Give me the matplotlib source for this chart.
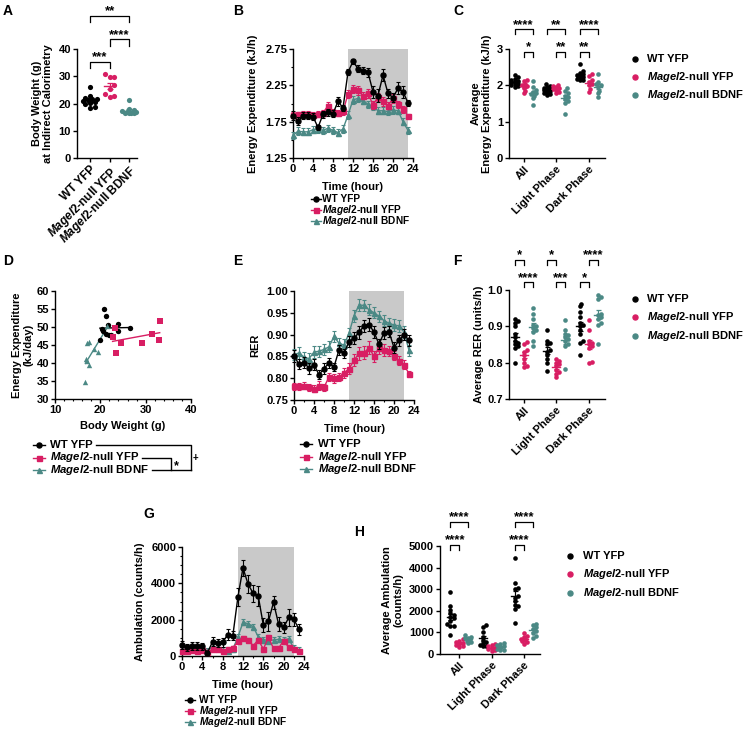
import numpy as np
import matplotlib.pyplot as plt
from matplotlib.lines import Line2D
from matplotlib.ticker import MultipleLocator, FormatStrFormatter

W, H = 747, 733

plt.rcParams.update({
    'font.family': 'Liberation Sans',
    'font.weight': 'bold',
    'font.size': 8,
    'axes.labelweight': 'bold',
    'axes.labelsize': 8,
    'axes.linewidth': 1.0,
    'xtick.labelsize': 8, 'ytick.labelsize': 8,
    'xtick.major.size': 2.8, 'ytick.major.size': 2.8,
    'xtick.minor.size': 1.6, 'ytick.minor.size': 1.6,
    'xtick.major.width': 1.0, 'ytick.major.width': 1.0,
    'xtick.minor.width': 0.8, 'ytick.minor.width': 0.8,
    'xtick.major.pad': 1.5, 'ytick.major.pad': 1.5,
    'mathtext.fontset': 'custom',
    'mathtext.it': 'Liberation Sans:italic:bold',
    'mathtext.rm': 'Liberation Sans:bold',
    'mathtext.bf': 'Liberation Sans:bold',
})

# --- groups / style ---
GROUPS = ['WT YFP', r'$\mathit{Magel2}$-null YFP', r'$\mathit{Magel2}$-null BDNF']
COLORS = ['#000000', '#D81E63', '#4B8985']
MARKERS = ['o', 's', '^']
GREY = '#C9C9C9'
PHASES = ['All', 'Light Phase', 'Dark Phase']

# --- A: body weight (g) ---
BW_WT = [26.1, 22.6, 22.2, 21.8, 21.6, 21.3, 21.0, 20.6, 20.2, 19.8, 18.8, 18.4]
BW_YFP = [30.7, 29.9, 29.8, 26.8, 25.5, 23.6, 22.6, 22.4]
BW_BDNF = [21.3, 18.0, 17.7, 17.3, 17.0, 16.8, 16.6, 16.5, 16.4, 16.4]

# --- B: energy expenditure (kJ/h) by hour ---
HOURS = np.arange(24)
EE_WT = [1.83, 1.76, 1.83, 1.83, 1.82, 1.67, 1.85, 1.88, 1.86, 2.03, 1.94, 2.43,
         2.58, 2.48, 2.45, 2.43, 2.16, 2.11, 2.39, 2.14, 2.08, 2.21, 2.16, 2.01]
EE_WT_SEM = [0.06, 0.05, 0.05, 0.05, 0.05, 0.04, 0.05, 0.05, 0.05, 0.06, 0.04, 0.04,
             0.03, 0.05, 0.05, 0.06, 0.08, 0.09, 0.08, 0.06, 0.06, 0.08, 0.08, 0.04]
EE_YFP = [1.84, 1.85, 1.86, 1.85, 1.84, 1.85, 1.87, 1.97, 1.88, 1.87, 1.89, 2.13,
          2.20, 2.18, 2.11, 2.14, 1.98, 2.09, 2.03, 1.97, 2.07, 1.99, 1.92, 1.83]
EE_YFP_SEM = [0.04, 0.03, 0.04, 0.04, 0.04, 0.04, 0.04, 0.05, 0.04, 0.04, 0.05, 0.06,
              0.06, 0.06, 0.05, 0.06, 0.06, 0.06, 0.06, 0.05, 0.06, 0.05, 0.05, 0.03]
EE_BDNF = [1.56, 1.62, 1.61, 1.61, 1.64, 1.65, 1.63, 1.66, 1.63, 1.60, 1.65, 1.84,
           2.05, 2.07, 2.04, 1.99, 1.96, 1.90, 1.90, 1.89, 1.91, 1.90, 1.75, 1.63]
EE_BDNF_SEM = [0.05] * 24

# --- C: average energy expenditure (kJ/h) ---
C_ALL_WT = [2.28, 2.22, 2.18, 2.15, 2.12, 2.10, 2.08, 2.05, 2.03, 2.00, 1.98, 1.95]
C_ALL_YFP = [2.15, 2.12, 2.05, 2.00, 1.97, 1.93, 1.85, 1.78]
C_ALL_BDNF = [2.12, 1.95, 1.88, 1.82, 1.78, 1.75, 1.72, 1.65, 1.45]
C_LIGHT_WT = [2.03, 1.98, 1.95, 1.92, 1.90, 1.88, 1.86, 1.84, 1.80, 1.78, 1.76, 1.74]
C_LIGHT_YFP = [2.02, 1.98, 1.95, 1.92, 1.90, 1.88, 1.82, 1.78]
C_LIGHT_BDNF = [1.92, 1.85, 1.78, 1.72, 1.68, 1.62, 1.58, 1.52, 1.22]
C_DARK_WT = [2.58, 2.40, 2.35, 2.30, 2.28, 2.25, 2.22, 2.20, 2.18, 2.17, 2.16, 2.15]
C_DARK_YFP = [2.30, 2.25, 2.15, 2.10, 2.05, 2.00, 1.90, 1.82]
C_DARK_BDNF = [2.30, 2.10, 2.03, 2.00, 1.95, 1.85, 1.78, 1.68]

# --- D: EE (kJ/day) vs body weight (g) ---
D_WT_BW = [20.8, 21.2, 21.8, 20.3, 20.5, 19.9, 21.2, 21.9, 22.3, 23.8, 23.8, 26.6]
D_WT_EE = [55.1, 53.1, 50.5, 49.4, 48.9, 46.5, 48.1, 47.9, 47.7, 50.9, 48.9, 49.8]
D_YFP_BW = [23.3, 22.7, 23.4, 24.5, 29.2, 31.4, 33.1, 33.0]
D_YFP_EE = [49.8, 47.1, 42.9, 45.5, 45.6, 48.1, 51.7, 46.4]
D_BDNF_BW = [16.7, 16.9, 17.1, 17.1, 17.6, 17.6, 18.6, 19.4, 21.4]
D_BDNF_EE = [34.6, 41.0, 40.5, 45.6, 45.7, 39.4, 43.9, 43.1, 50.2]

# --- E: RER by hour ---
RER_WT = [0.851, 0.832, 0.836, 0.823, 0.831, 0.808, 0.822, 0.835, 0.826, 0.865, 0.857, 0.884,
          0.892, 0.905, 0.920, 0.923, 0.906, 0.878, 0.904, 0.907, 0.870, 0.887, 0.900, 0.887]
RER_WT_SEM = [0.014, 0.012, 0.012, 0.013, 0.012, 0.010, 0.012, 0.011, 0.010, 0.012, 0.010, 0.012,
              0.013, 0.014, 0.013, 0.014, 0.014, 0.012, 0.013, 0.012, 0.013, 0.013, 0.012, 0.013]
RER_YFP = [0.781, 0.781, 0.783, 0.779, 0.776, 0.783, 0.779, 0.803, 0.800, 0.803, 0.812, 0.822,
           0.841, 0.857, 0.858, 0.870, 0.850, 0.870, 0.865, 0.863, 0.852, 0.840, 0.831, 0.810]
RER_YFP_SEM = [0.008, 0.008, 0.008, 0.008, 0.008, 0.010, 0.008, 0.010, 0.010, 0.010, 0.012, 0.012,
               0.014, 0.015, 0.015, 0.015, 0.013, 0.014, 0.013, 0.012, 0.011, 0.010, 0.010, 0.006]
RER_BDNF = [0.854, 0.858, 0.848, 0.845, 0.860, 0.862, 0.866, 0.872, 0.896, 0.880, 0.876, 0.903,
            0.943, 0.968, 0.967, 0.957, 0.950, 0.942, 0.932, 0.926, 0.922, 0.920, 0.906, 0.864]
RER_BDNF_SEM = [0.013] * 24

# --- F: average RER ---
F_ALL_WT = [0.920, 0.915, 0.910, 0.900, 0.880, 0.870, 0.860, 0.855, 0.850, 0.845, 0.840, 0.800]
F_ALL_YFP = [0.857, 0.852, 0.835, 0.830, 0.820, 0.810, 0.800, 0.790, 0.787]
F_ALL_BDNF = [0.950, 0.935, 0.920, 0.905, 0.900, 0.895, 0.890, 0.885, 0.860, 0.845]
F_LIGHT_WT = [0.890, 0.860, 0.855, 0.850, 0.835, 0.830, 0.820, 0.810, 0.800, 0.778]
F_LIGHT_YFP = [0.810, 0.805, 0.800, 0.795, 0.790, 0.780, 0.775, 0.770, 0.760]
F_LIGHT_BDNF = [0.918, 0.890, 0.880, 0.875, 0.870, 0.865, 0.860, 0.850, 0.845, 0.783]
F_DARK_WT = [0.962, 0.955, 0.940, 0.925, 0.910, 0.905, 0.900, 0.890, 0.880, 0.860, 0.855, 0.820]
F_DARK_YFP = [0.918, 0.890, 0.860, 0.855, 0.850, 0.845, 0.840, 0.802, 0.800]
F_DARK_BDNF = [0.985, 0.980, 0.975, 0.935, 0.930, 0.925, 0.920, 0.910, 0.905, 0.852]

# --- G: ambulation (counts/h) by hour ---
AMB_WT = [600, 480, 550, 570, 540, 180, 780, 720, 750, 1180, 1120, 3250,
          4850, 3950, 3450, 3300, 1700, 1900, 2950, 1750, 1570, 2120, 2020, 1480]
AMB_WT_SEM = [200, 180, 200, 220, 200, 100, 250, 230, 260, 300, 260, 500,
              450, 500, 450, 550, 400, 500, 350, 400, 300, 450, 350, 300]
AMB_YFP = [290, 290, 320, 300, 320, 220, 380, 410, 300, 380, 430, 800,
           1000, 880, 560, 900, 380, 1030, 420, 430, 850, 470, 400, 300]
AMB_YFP_SEM = [100] * 24
AMB_BDNF = [350, 370, 420, 400, 400, 280, 500, 480, 350, 300, 380, 1050,
            1850, 1780, 1620, 1050, 900, 850, 880, 920, 880, 950, 420, 320]
AMB_BDNF_SEM = [160] * 24

# --- H: average ambulation (counts/h) ---
H_ALL_WT = [2850, 2200, 2050, 1900, 1800, 1700, 1650, 1550, 1400, 1300, 1300, 900]
H_ALL_YFP = [700, 620, 560, 500, 450, 420, 380, 330]
H_ALL_BDNF = [860, 800, 760, 720, 680, 620, 560, 500]
H_LIGHT_WT = [1320, 1250, 1000, 800, 650, 550, 500, 420, 380, 350]
H_LIGHT_YFP = [480, 400, 350, 300, 260, 230, 200, 160]
H_LIGHT_BDNF = [500, 450, 400, 380, 300, 250, 200, 170]
H_DARK_WT = [4450, 3300, 3050, 3000, 2700, 2600, 2450, 2250, 2200, 2100, 1450]
H_DARK_YFP = [950, 850, 780, 700, 650, 600, 550, 480]
H_DARK_BDNF = [1400, 1350, 1250, 1150, 1050, 950, 850, 750]

fig = plt.figure(figsize=(W / 100, H / 100), dpi=100)


def fx(x):
    return x / W


def fy(y):
    return 1 - y / H


def add_ax(l, t, r, b):
    ax = fig.add_axes([l / W, 1 - b / H, (r - l) / W, (b - t) / H])
    ax.spines[['top', 'right']].set_visible(False)
    return ax


def ppu(ax):
    p = ax.transData.transform([(0, 0), (1, 1)])
    return p[1] - p[0]


def swarm(vals, px_y, d_px, step_px, max_px):
    # simple beeswarm: offsets in pixels, kept inside +-max_px
    vals = np.asarray(vals, float)
    off = np.zeros(len(vals))
    placed = []
    cands = [0.0]
    j = 1
    while j * step_px <= max_px:
        cands += [j * step_px, -j * step_px]
        j += 1
    for i in np.argsort(vals):
        y = vals[i] * px_y
        best, best_d = 0.0, -1
        for c in cands:
            dmin = min([np.hypot(c - a, y - b) for a, b in placed] or [1e9])
            if dmin >= d_px:
                best = c
                break
            if dmin > best_d:
                best, best_d = c, dmin
        off[i] = best
        placed.append((best, y))
    return off


def time_panel(ax, series, errs, ylim, ymaj, ymin, fmt, shade):
    ax.set_xlim(0, 24)
    ax.set_ylim(*ylim)
    ax.axvspan(*shade, color=GREY, lw=0, zorder=0)
    for g in [2, 1, 0]:
        eb = ax.errorbar(HOURS, series[g], yerr=errs[g], color=COLORS[g], marker=MARKERS[g],
                         ms=3.6, lw=1.0, elinewidth=0.8, capsize=1.6, capthick=0.8, zorder=3 + (2 - g))
        line, caps, bars = eb.lines
        for a in [line, *caps, *bars]:
            a.set_clip_on(False)
    ax.xaxis.set_major_locator(MultipleLocator(4))
    ax.xaxis.set_minor_locator(MultipleLocator(2))
    ax.yaxis.set_major_locator(MultipleLocator(ymaj))
    if ymin:
        ax.yaxis.set_minor_locator(MultipleLocator(ymin))
    ax.yaxis.set_major_formatter(FormatStrFormatter(fmt))
    ax.set_xlabel('Time (hour)')
    ax.xaxis.set_label_coords(0.5, -0.22)


def dots(ax, xpos, sets, d_px, step_px, max_px, half, cap, s):
    px_x, px_y = ppu(ax)
    for x0, vals, g in zip(xpos, sets, [0, 1, 2] * (len(sets) // 3)):
        dx = swarm(vals, px_y, d_px, step_px, max_px) / px_x
        ax.scatter(x0 + dx, vals, s=s, color=COLORS[g], lw=0, zorder=3, clip_on=False)
        m = np.mean(vals)
        se = np.std(vals, ddof=1) / np.sqrt(len(vals))
        ax.plot([x0 - half, x0 + half], [m, m], color=COLORS[g], lw=1.0, zorder=4)
        ax.errorbar(x0, m, yerr=se, color=COLORS[g], elinewidth=0.9, capsize=cap, capthick=0.9, zorder=4)


def bracket(ax, x1, x2, y, text, leg_px=5):
    h = leg_px / ppu(ax)[1]
    ax.plot([x1, x1, x2, x2], [y - h, y, y, y - h], color='k', lw=0.9, clip_on=False)
    ax.annotate(text, xy=((x1 + x2) / 2, y), xytext=(0, 1), textcoords='offset points',
                ha='center', va='baseline', fontsize=9.5, annotation_clip=False)


def legend(xm, xt, rows, hl=0, fs=8.5):
    # xm: handle centre, hl: half length of the handle line (0 = marker only)
    texts = []
    for g, y in enumerate(rows):
        if hl:
            fig.add_artist(Line2D([fx(xm - hl), fx(xm + hl)], [fy(y), fy(y)], color=COLORS[g], lw=1.0,
                                  transform=fig.transFigure))
        fig.add_artist(Line2D([fx(xm)], [fy(y)], color=COLORS[g], marker=MARKERS[g] if hl else 'o',
                              ms=3.6, lw=0, transform=fig.transFigure))
        texts.append(fig.text(fx(xt), fy(y), GROUPS[g], va='center', ha='left', fontsize=fs))
    return texts


def panel_letter(x, y, s):
    fig.text(fx(x), fy(y), s, fontsize=10, fontweight='bold', va='top', ha='left')


def rotate_ticks(ax, fs=8):
    for t in ax.get_xticklabels():
        t.set_rotation(45)
        t.set_ha('right')
        t.set_rotation_mode('anchor')
        t.set_fontsize(fs)


# ---------------- A ----------------
axA = add_ax(77, 49, 137, 158)
axA.set_xlim(-0.67, 2.4)
axA.set_ylim(0, 40)
axA.yaxis.set_major_locator(MultipleLocator(10))
dots(axA, [0, 1, 2], [BW_WT, BW_YFP, BW_BDNF], d_px=4.5, step_px=2.3, max_px=7, half=0.27, cap=2.2, s=14)
axA.set_xticks([0, 1, 2])
axA.set_xticklabels(GROUPS)
rotate_ticks(axA, 8.5)
axA.set_ylabel('Body Weight (g)\nat Indirect Calorimetry', linespacing=1.1)
axA.yaxis.set_label_coords(-0.40, 0.5)
bracket(axA, 0, 1, 35.3, '***', 6.5)
bracket(axA, 1, 2, 43.6, '****', 6.5)
bracket(axA, 0, 2, 52.2, '**', 6.5)

# ---------------- B ----------------
axB = add_ax(293, 49, 413, 158)
time_panel(axB, [EE_WT, EE_YFP, EE_BDNF], [EE_WT_SEM, EE_YFP_SEM, EE_BDNF_SEM],
           (1.25, 2.75), 0.5, 0.25, '%.2f', (11, 23))
axB.set_yticks([1.25, 1.75, 2.25, 2.75])
axB.set_ylabel('Energy Expenditure (kJ/h)')
axB.yaxis.set_label_coords(-0.29, 0.5)
legend(315.5, 322, [199, 210, 221], hl=5, fs=7.3)

# ---------------- C ----------------
OFF = 0.275
CAT_X = [c + (g - 1) * OFF for c in range(3) for g in range(3)]
axC = add_ax(509, 49, 605, 158)
axC.set_xlim(-0.45, 2.5)
axC.set_ylim(0, 3)
axC.yaxis.set_major_locator(MultipleLocator(1))
dots(axC, CAT_X, [C_ALL_WT, C_ALL_YFP, C_ALL_BDNF, C_LIGHT_WT, C_LIGHT_YFP, C_LIGHT_BDNF,
                  C_DARK_WT, C_DARK_YFP, C_DARK_BDNF], d_px=3.0, step_px=1.6, max_px=3.5,
     half=0.12, cap=1.8, s=11)
axC.set_xticks([0, 1, 2])
axC.set_xticklabels(PHASES)
rotate_ticks(axC)
axC.set_ylabel('Average\nEnergy Expenditure (kJ/h)', linespacing=1.1)
axC.yaxis.set_label_coords(-0.18, 0.5)
bracket(axC, -OFF, OFF, 3.54, '****')
bracket(axC, 0, OFF, 2.93, '*')
bracket(axC, 1 - OFF, 1 + OFF, 3.54, '**')
bracket(axC, 1, 1 + OFF, 2.93, '**')
bracket(axC, 2 - OFF, 2 + OFF, 3.54, '****')
bracket(axC, 2 - OFF, 2, 2.93, '**')
legend(635, 647, [59, 77, 95], fs=8)

# ---------------- D ----------------
axD = add_ax(55, 291, 191, 399)
axD.set_xlim(10, 40)
axD.set_ylim(30, 60)
axD.xaxis.set_major_locator(MultipleLocator(10))
axD.xaxis.set_minor_locator(MultipleLocator(2))
axD.yaxis.set_major_locator(MultipleLocator(5))
for g, (bw, ee) in enumerate([(D_WT_BW, D_WT_EE), (D_YFP_BW, D_YFP_EE), (D_BDNF_BW, D_BDNF_EE)]):
    axD.scatter(bw, ee, s=15, color=COLORS[g], marker=MARKERS[g], lw=0, zorder=3)
    k, b0 = np.polyfit(bw, ee, 1)
    xx = np.array([min(bw), max(bw)])
    axD.plot(xx, k * xx + b0, color=COLORS[g], lw=1.0, zorder=2)
axD.set_xlabel('Body Weight (g)')
axD.xaxis.set_label_coords(0.5, -0.2)
axD.set_ylabel('Energy Expenditure\n(kJ/day)', linespacing=1.1)
axD.yaxis.set_label_coords(-0.16, 0.5)
D_ROWS = [445, 457.5, 470]
d_texts = legend(39, 50, D_ROWS, hl=6, fs=8.2)

# ---------------- E ----------------
axE = add_ax(294, 291, 414, 400)
time_panel(axE, [RER_WT, RER_YFP, RER_BDNF], [RER_WT_SEM, RER_YFP_SEM, RER_BDNF_SEM],
           (0.75, 1.0), 0.05, None, '%.2f', (11, 22))
axE.set_ylabel('RER')
axE.yaxis.set_label_coords(-0.28, 0.5)
legend(306, 318, [444, 456.5, 469], hl=6, fs=8.2)

# ---------------- F ----------------
axF = add_ax(509, 290, 605, 399)
axF.set_xlim(-0.45, 2.5)
axF.set_ylim(0.7, 1.0)
axF.yaxis.set_major_locator(MultipleLocator(0.1))
axF.yaxis.set_major_formatter(FormatStrFormatter('%.1f'))
dots(axF, CAT_X, [F_ALL_WT, F_ALL_YFP, F_ALL_BDNF, F_LIGHT_WT, F_LIGHT_YFP, F_LIGHT_BDNF,
                  F_DARK_WT, F_DARK_YFP, F_DARK_BDNF], d_px=3.0, step_px=1.6, max_px=3.5,
     half=0.12, cap=1.8, s=11)
axF.set_xticks([0, 1, 2])
axF.set_xticklabels(PHASES)
rotate_ticks(axF)
axF.set_ylabel('Average RER (units/h)')
axF.yaxis.set_label_coords(-0.26, 0.5)
bracket(axF, -OFF, 0, 1.083, '*')
bracket(axF, 0, OFF, 1.021, '****')
bracket(axF, 1 - OFF, 1, 1.083, '*')
bracket(axF, 1, 1 + OFF, 1.021, '***')
bracket(axF, 2, 2 + OFF, 1.083, '****')
bracket(axF, 2 - OFF, 2, 1.021, '*')
legend(635, 647, [299, 317, 336], fs=8)

# ---------------- G ----------------
axG = add_ax(182, 547, 304, 656)
time_panel(axG, [AMB_WT, AMB_YFP, AMB_BDNF], [AMB_WT_SEM, AMB_YFP_SEM, AMB_BDNF_SEM],
           (0, 6000), 2000, 500, '%d', (11, 22))
axG.set_ylabel('Ambulation (counts/h)')
axG.yaxis.set_label_coords(-0.30, 0.5)
legend(190, 199, [700, 711, 722], hl=5, fs=7.3)

# ---------------- H ----------------
axH = add_ax(440, 546, 540, 654)
axH.set_xlim(-0.6, 2.5)
axH.set_ylim(0, 5000)
axH.yaxis.set_major_locator(MultipleLocator(1000))
dots(axH, CAT_X, [H_ALL_WT, H_ALL_YFP, H_ALL_BDNF, H_LIGHT_WT, H_LIGHT_YFP, H_LIGHT_BDNF,
                  H_DARK_WT, H_DARK_YFP, H_DARK_BDNF], d_px=3.0, step_px=1.6, max_px=3.5,
     half=0.12, cap=1.8, s=11)
axH.set_xticks([0, 1, 2])
axH.set_xticklabels(PHASES)
rotate_ticks(axH)
axH.set_ylabel('Average Ambulation\n(counts/h)', linespacing=1.1)
axH.yaxis.set_label_coords(-0.37, 0.5)
bracket(axH, -OFF, 0, 5046, '****')
bracket(axH, -OFF, OFF, 6125, '****')
bracket(axH, 2 - OFF, 2, 5046, '****')
bracket(axH, 2 - OFF, 2 + OFF, 6125, '****')
legend(570, 583, [556, 574, 593], fs=8)

# panel letters
for x, y, s in [(3, 4, 'A'), (233, 4, 'B'), (453, 4, 'C'), (3, 254, 'D'), (233, 254, 'E'),
                (453, 254, 'F'), (143, 507, 'G'), (354, 525, 'H')]:
    panel_letter(x, y, s)

# significance brackets beside legend D
fig.canvas.draw()
r = fig.canvas.get_renderer()
ends = [t.get_window_extent(r).x1 for t in d_texts]
OUT_X, IN_X = 191, 171
segs = [([ends[0] + 3, OUT_X, OUT_X], [D_ROWS[0], D_ROWS[0], D_ROWS[2]]),
        ([ends[2] + 3, OUT_X], [D_ROWS[2], D_ROWS[2]]),
        ([ends[1] + 3, IN_X, IN_X], [D_ROWS[1], D_ROWS[1], D_ROWS[2]])]
for xs, ys in segs:
    fig.add_artist(Line2D([fx(v) for v in xs], [fy(v) for v in ys], color='k', lw=1.0,
                          transform=fig.transFigure))
fig.text(fx(176), fy(466), '*', fontsize=9, ha='center', va='center')
fig.text(fx(195), fy(458), '+', fontsize=7, ha='center', va='center')

fig.savefig('out.png', dpi=100)
